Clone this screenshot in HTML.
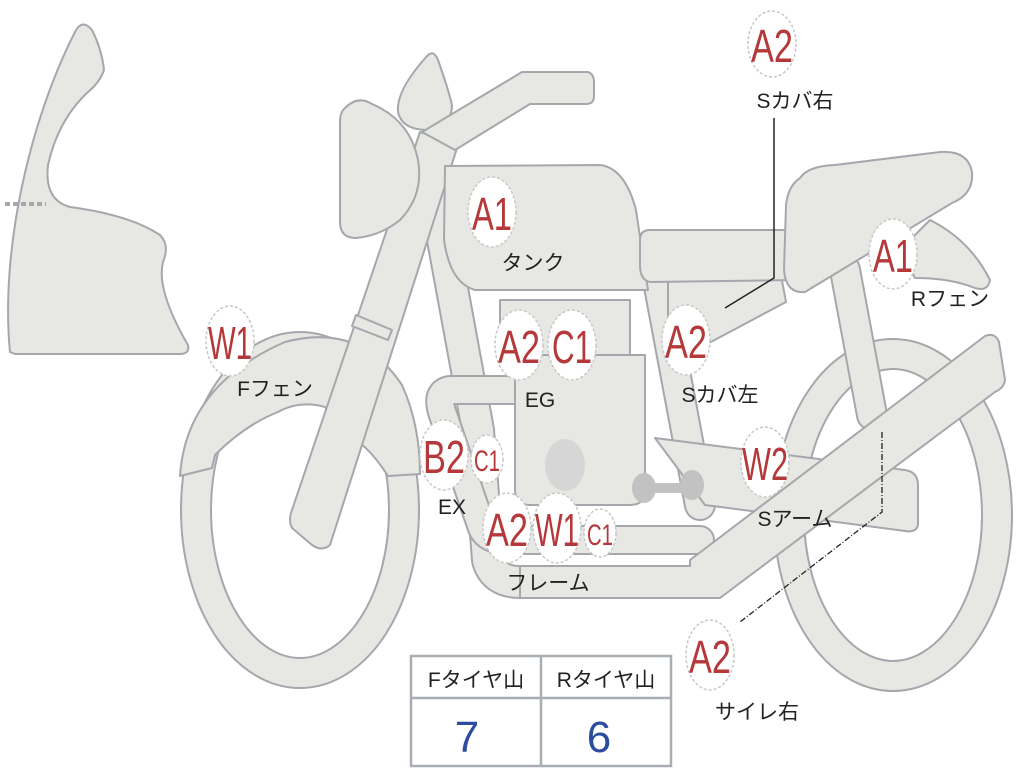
<!DOCTYPE html>
<html><head><meta charset="utf-8"><style>
html,body{margin:0;padding:0;background:#fff;}
svg{display:block;}
.s{fill:#e7e7e3;stroke:#a4a8ad;stroke-width:2;stroke-linejoin:round;}
.to{fill:none;stroke:#a4a8ad;stroke-linecap:round;stroke-linejoin:round;}
.ti{fill:none;stroke:#e7e7e3;stroke-linecap:round;stroke-linejoin:round;}
.c{fill:#fff;stroke:#c8c8c8;stroke-width:1.5;stroke-dasharray:3 2;}
.r{fill:#b5383a;font-family:"Liberation Sans",sans-serif;text-anchor:middle;}
.k{fill:#222;font-family:"Liberation Sans","Noto Sans CJK JP",sans-serif;font-size:21px;text-anchor:middle;}
</style></head><body>
<svg width="1024" height="768" viewBox="0 0 1024 768" xmlns="http://www.w3.org/2000/svg">
<ellipse cx="300" cy="510" rx="104" ry="163" class="to" stroke-width="32"/>
<ellipse cx="300" cy="510" rx="104" ry="163" class="ti" stroke-width="28"/>
<ellipse cx="893" cy="515" rx="104" ry="161" class="to" stroke-width="32"/>
<ellipse cx="893" cy="515" rx="104" ry="161" class="ti" stroke-width="28"/>
<path class="s" d="M10 352 C0 250 30 120 75 32 Q82 18 92 30 Q102 50 104 70 Q100 82 88 92 Q58 120 48 165 Q44 200 70 207 Q130 215 160 235 Q170 245 163 262 Q156 290 188 345 Q190 354 180 354 L15 354 Z"/>
<path d="M5 204 L46 204" stroke="#a4a8ad" stroke-width="4" stroke-dasharray="5 3"/>
<path class="s" d="M180 476 Q186 385 285 342 Q360 322 402 385 Q420 425 420 474 L388 476 Q368 445 350 437 L325 407 Q300 400 278 412 Q245 425 215 455 L212 468 Z"/>
<path class="to" d="M432 180 L478 430 L488 560 Q494 582 520 582 L700 582" stroke-width="34"/>
<path class="ti" d="M432 180 L478 430 L488 560 Q494 582 520 582 L700 582" stroke-width="30"/>
<path class="to" d="M655 265 L700 505" stroke-width="32"/>
<path class="ti" d="M655 265 L700 505" stroke-width="28"/>
<path class="to" d="M845 270 L872 415" stroke-width="32"/>
<path class="ti" d="M845 270 L872 415" stroke-width="28"/>
<path class="to" d="M520 390 L450 390 Q436 392 442 412 L482 528 Q488 540 505 540 L700 540" stroke-width="30"/>
<path class="ti" d="M520 390 L450 390 Q436 392 442 412 L482 528 Q488 540 505 540 L700 540" stroke-width="26"/>
<path class="s" d="M655 438 L905 470 Q918 472 918 485 L918 525 Q916 533 905 531 L705 505 Z"/>
<path class="s" d="M690 560 L985 336 Q995 332 999 342 L1005 380 Q1004 388 995 392 L720 598 L520 598 L520 566 L690 566 Z"/>
<path class="s" d="M420 132 L458 145 L330 545 Q322 552 312 545 L292 528 Q288 520 292 510 Z"/>
<path class="s" d="M356 315 L392 330 L388 340 L352 326 Z"/>
<path class="s" d="M345 108 Q358 95 372 104 Q410 120 418 160 Q424 195 400 220 Q380 236 356 238 Q340 238 340 222 L340 122 Q340 112 345 108 Z"/>
<path class="s" d="M428 55 Q434 50 438 60 Q448 88 452 105 Q452 126 428 130 Q402 130 398 112 Q396 90 428 55 Z"/>
<path class="s" d="M422 132 L522 72 L588 72 Q594 74 594 82 L594 96 Q594 104 586 104 L530 104 L455 150 Z"/>
<path class="s" d="M445 166 L600 165 Q625 168 636 210 L648 290 L475 290 Q450 283 444 240 Z"/>
<path class="s" d="M668 282 L780 270 L786 302 L692 352 Q672 348 668 330 Z"/>
<path class="s" d="M640 240 Q640 230 650 230 L785 230 Q800 232 800 245 L798 280 L650 282 Q640 280 640 265 Z"/>
<path class="s" d="M800 178 Q808 166 835 165 L940 152 Q968 150 972 172 Q974 194 952 203 L805 292 Q786 294 784 270 L786 205 Q788 186 800 178 Z"/>
<path class="s" d="M930 220 Q970 240 990 280 Q988 292 975 288 Q950 278 915 278 L900 250 Z"/>
<path class="s" d="M500 300 L630 300 L630 355 L500 355 Z"/>
<path class="s" d="M515 355 L645 355 L645 490 Q645 505 630 505 L530 505 Q515 505 515 490 Z"/>
<ellipse cx="565" cy="465" rx="20" ry="26" fill="#d6d6d6"/>
<path d="M638 488 L700 488" stroke="#c2c2c2" stroke-width="10"/>
<ellipse cx="644" cy="488" rx="12" ry="15" fill="#c2c2c2"/>
<ellipse cx="692" cy="485" rx="12" ry="15" fill="#c2c2c2"/>
<path d="M774 118 L774 278 L725 308" fill="none" stroke="#222" stroke-width="1.5"/>
<path d="M882 432 L882 512 L740 622" fill="none" stroke="#222" stroke-width="1.3" stroke-dasharray="6 2 1 2"/>
<g>
<ellipse class="c" cx="772" cy="44" rx="24" ry="33"/><text class="r" x="772" y="62" font-size="46" textLength="42" lengthAdjust="spacingAndGlyphs">A2</text>
<text class="k" x="795" y="108">Sカバ右</text>
<ellipse class="c" cx="492" cy="212" rx="24" ry="35"/><text class="r" x="492" y="230" font-size="46" textLength="40" lengthAdjust="spacingAndGlyphs">A1</text>
<text class="k" x="533" y="270">タンク</text>
<ellipse class="c" cx="893" cy="254" rx="24" ry="35"/><text class="r" x="893" y="272" font-size="46" textLength="40" lengthAdjust="spacingAndGlyphs">A1</text>
<text class="k" x="950" y="306">Rフェン</text>
<ellipse class="c" cx="230" cy="341" rx="24" ry="35"/><text class="r" x="230" y="359" font-size="46" textLength="44" lengthAdjust="spacingAndGlyphs">W1</text>
<text class="k" x="275" y="396">Fフェン</text>
<ellipse class="c" cx="519" cy="345" rx="24" ry="35"/><text class="r" x="519" y="363" font-size="46" textLength="42" lengthAdjust="spacingAndGlyphs">A2</text>
<ellipse class="c" cx="572" cy="345" rx="24" ry="35"/><text class="r" x="572" y="363" font-size="46" textLength="40" lengthAdjust="spacingAndGlyphs">C1</text>
<text class="k" x="540" y="407">EG</text>
<ellipse class="c" cx="686" cy="340" rx="24" ry="35"/><text class="r" x="686" y="358" font-size="46" textLength="42" lengthAdjust="spacingAndGlyphs">A2</text>
<text class="k" x="720" y="402">Sカバ左</text>
<ellipse class="c" cx="444" cy="455" rx="24" ry="35"/><text class="r" x="444" y="473" font-size="46" textLength="42" lengthAdjust="spacingAndGlyphs">B2</text>
<ellipse class="c" cx="487" cy="459" rx="16" ry="24"/><text class="r" x="487" y="471" font-size="30" textLength="26" lengthAdjust="spacingAndGlyphs">C1</text>
<text class="k" x="452" y="514">EX</text>
<ellipse class="c" cx="507" cy="528" rx="24" ry="35"/><text class="r" x="507" y="546" font-size="46" textLength="42" lengthAdjust="spacingAndGlyphs">A2</text>
<ellipse class="c" cx="557" cy="528" rx="24" ry="35"/><text class="r" x="557" y="546" font-size="46" textLength="44" lengthAdjust="spacingAndGlyphs">W1</text>
<ellipse class="c" cx="600" cy="533" rx="16" ry="24"/><text class="r" x="600" y="545" font-size="30" textLength="26" lengthAdjust="spacingAndGlyphs">C1</text>
<text class="k" x="548" y="590">フレーム</text>
<ellipse class="c" cx="765" cy="462" rx="24" ry="35"/><text class="r" x="765" y="480" font-size="46" textLength="46" lengthAdjust="spacingAndGlyphs">W2</text>
<text class="k" x="795" y="526">Sアーム</text>
<ellipse class="c" cx="710" cy="655" rx="24" ry="35"/><text class="r" x="710" y="673" font-size="46" textLength="42" lengthAdjust="spacingAndGlyphs">A2</text>
<text class="k" x="757" y="719">サイレ右</text>
</g>
<rect x="411" y="656" width="260" height="110" fill="#fff" stroke="#a8aeb4" stroke-width="2.5"/>
<line x1="411" y1="698" x2="671" y2="698" stroke="#a8aeb4" stroke-width="2.5"/>
<line x1="541" y1="656" x2="541" y2="766" stroke="#a8aeb4" stroke-width="2.5"/>
<text class="k" x="476" y="687">Fタイヤ山</text>
<text class="k" x="606" y="687">Rタイヤ山</text>
<text x="467" y="752" font-size="44" fill="#2c4c9e" font-family="Liberation Sans,sans-serif" text-anchor="middle">7</text>
<text x="599" y="752" font-size="44" fill="#2c4c9e" font-family="Liberation Sans,sans-serif" text-anchor="middle">6</text>
</svg>
</body></html>
